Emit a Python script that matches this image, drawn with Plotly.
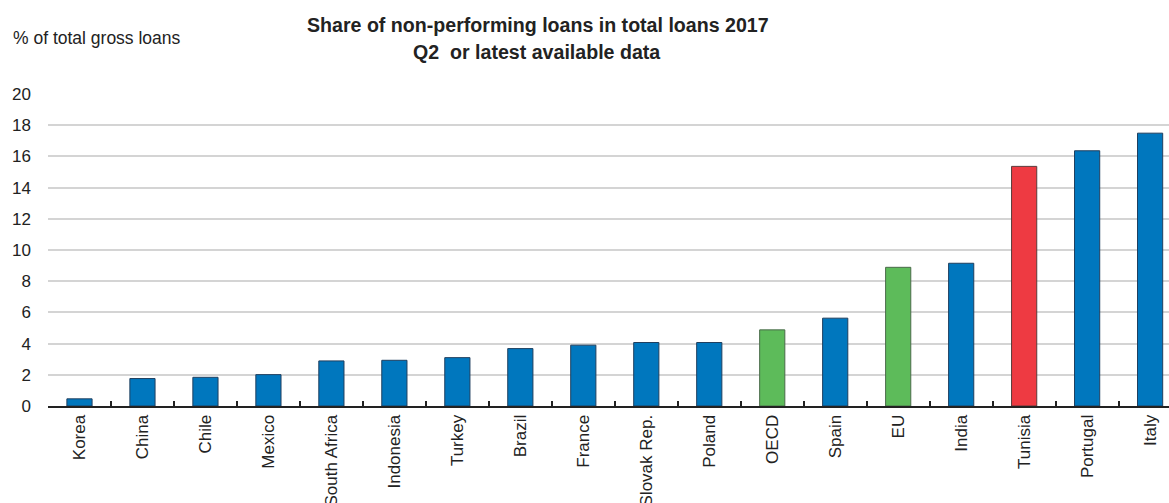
import plotly.graph_objects as go

# Non-performing loans, % of total gross loans (2017 Q2 or latest available)
countries = ["Korea", "China", "Chile", "Mexico", "South Africa", "Indonesia", "Turkey",
             "Brazil", "France", "Slovak Rep.", "Poland", "OECD", "Spain", "EU",
             "India", "Tunisia", "Portugal", "Italy"]
npl_share = [0.46, 1.76, 1.84, 2.01, 2.89, 2.93, 3.10, 3.68, 3.90, 4.07, 4.07, 4.88,
             5.63, 8.89, 9.15, 15.36, 16.36, 17.49]
group = ["country"] * 11 + ["aggregate", "country", "aggregate", "country", "highlight",
                            "country", "country"]

title_lines = ["Share of non-performing loans in total loans 2017",
               "Q2  or latest available data"]
unit_label = "% of total gross loans"

fill_for = {"country": "#0077BE", "aggregate": "#5DBB5A", "highlight": "#EE3A42"}
edge_for = {"country": "#1F3F5F", "aggregate": "#4A6A4A", "highlight": "#5A3A3A"}

FONT = "Liberation Sans, Arial, sans-serif"
INK = "#222222"

# plot area geometry (pixels) used to place the header texts in paper units
W, H = 1169, 503
M_L, M_T, M_B = 48, 94, 97
PLOT_W = W - M_L
PLOT_H = H - M_T - M_B


def px_to_paper_x(px):
    return (px - M_L) / PLOT_W


def px_to_paper_y(py):
    return 1 + (M_T - py) / PLOT_H


fig = go.Figure(
    go.Bar(
        x=countries,
        y=npl_share,
        marker=dict(
            color=[fill_for[g] for g in group],
            line=dict(color=[edge_for[g] for g in group], width=1),
        ),
        width=0.4,
        hoverinfo="x+y",
    )
)

header = [
    dict(text=f"<b>{title_lines[0]}</b>", x=px_to_paper_x(538), y=px_to_paper_y(25),
         xanchor="center", size=19.6),
    dict(text=f"<b>{title_lines[1]}</b>", x=px_to_paper_x(537), y=px_to_paper_y(52),
         xanchor="center", size=19.6),
    dict(text=unit_label, x=px_to_paper_x(11), y=px_to_paper_y(38),
         xanchor="left", size=17.5),
]

fig.update_layout(
    width=W,
    height=H,
    margin=dict(l=M_L, r=0, t=M_T, b=M_B, autoexpand=False),
    paper_bgcolor="white",
    plot_bgcolor="white",
    showlegend=False,
    font=dict(family=FONT, color=INK),
    annotations=[
        dict(
            text=h["text"], xref="paper", yref="paper", x=h["x"], y=h["y"],
            xanchor=h["xanchor"], yanchor="middle", showarrow=False,
            font=dict(family=FONT, size=h["size"], color=INK),
        )
        for h in header
    ],
)

fig.update_xaxes(
    type="category",
    range=[-0.5, 17.3],
    tickangle=-90,
    tickfont=dict(family=FONT, size=17, color=INK),
    ticks="inside",
    ticklen=5,
    tickwidth=1.5,
    tickcolor=INK,
    tickson="boundaries",
    showline=True,
    linecolor=INK,
    linewidth=2,
    showgrid=False,
    automargin=False,
    fixedrange=True,
)

fig.update_yaxes(
    range=[0, 20],
    dtick=2,
    tickfont=dict(family=FONT, size=17, color=INK),
    showgrid=True,
    gridcolor="#D4D4D4",
    gridwidth=1.5,
    zeroline=False,
    showline=False,
    ticks="",
    ticklabelstandoff=16,
    automargin=False,
    fixedrange=True,
)

fig.write_html("out.html")
